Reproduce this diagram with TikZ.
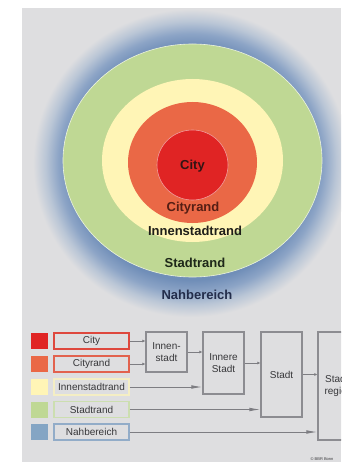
\documentclass[tikz,border=0pt]{standalone}
\usepackage{fontspec}
\setmainfont{Liberation Sans}
\usetikzlibrary{arrows.meta}
\definecolor{bg}{RGB}{222,222,224}
\definecolor{glowblue}{RGB}{112,142,184}
\definecolor{glowmid}{RGB}{140,164,198}
\definecolor{glowlight}{RGB}{186,198,214}
\definecolor{cgreen}{RGB}{191,216,148}
\definecolor{cyellow}{RGB}{255,245,182}
\definecolor{corange}{RGB}{234,104,70}
\definecolor{cred}{RGB}{224,36,36}
\definecolor{cswblue}{RGB}{132,165,196}
\definecolor{boxline}{RGB}{140,140,145}
\definecolor{conn}{RGB}{125,125,130}
\definecolor{txt}{RGB}{55,55,58}
\pgfdeclareradialshading{glow}{\pgfpoint{0bp}{0bp}}{color(0bp)=(glowblue); color(19bp)=(glowblue); color(21bp)=(glowmid); color(23bp)=(glowlight); color(25bp)=(bg); color(50bp)=(bg)}
\tikzset{
  bigtxt/.style={font=\fontsize{13}{15}\selectfont\bfseries, inner sep=0pt},
  swatch/.style={minimum width=17pt, minimum height=16pt, inner sep=0pt},
  legbox/.style={draw, line width=1.2pt, fill=bg, minimum width=75pt, minimum height=16pt, inner sep=0pt, text=txt, font=\fontsize{10}{11}\selectfont},
  flowbox/.style={draw=boxline, line width=1.2pt, fill=bg, minimum width=41pt, inner sep=0pt, text=txt, align=center, font=\fontsize{10}{11.8}\selectfont},
  conline/.style={draw=conn, line width=0.9pt},
  smallarr/.style={conline, -{Latex[length=3pt,width=3pt]}},
  longarr/.style={conline, -{Latex[length=11pt,width=3.6pt]}}
}
\begin{document}
\begin{tikzpicture}[x=1pt,y=-1pt]
\useasboundingbox (0,0) rectangle (341,462);
\clip (0,0) rectangle (341,462);
\fill[white] (0,0) rectangle (341,462);
\fill[bg] (22,8) rectangle (341,462);
% glow
\begin{scope}
\clip (22,8) rectangle (341,462);
\shade[shading=glow] (191,163) ellipse [x radius=158, y radius=154];
\end{scope}
% rings
\fill[cgreen, draw=white!70!cgreen, line width=0.6pt] (192.5,160.5) ellipse [x radius=129.5, y radius=116.5];
\fill[cyellow] (192.5,160.5) ellipse [x radius=90.5, y radius=81.5];
\fill[corange] (192.5,162.5) ellipse [x radius=64.5, y radius=60.5];
\fill[cred, draw=white!55!cred, line width=0.6pt] (192.5,165) ellipse [x radius=35.5, y radius=35];
% labels
\node[bigtxt, text={rgb,255:red,50;green,20;blue,20}] (lcity) at (192.5,166) {City};
\node[bigtxt, text={rgb,255:red,85;green,30;blue,20}] (lcityrand) at (193,208) {Cityrand};
\node[bigtxt, text={rgb,255:red,30;green,30;blue,25}] (linnen) at (195,231) {Innenstadtrand};
\node[bigtxt, text={rgb,255:red,30;green,40;blue,25}] (lstadt) at (195,263) {Stadtrand};
\node[bigtxt, text={rgb,255:red,35;green,45;blue,75}] (lnah) at (197,295) {Nahbereich};
% legend swatches
\node[swatch, fill=cred] (s1) at (39.5,341) {};
\node[swatch, fill=corange] (s2) at (39.5,364) {};
\node[swatch, fill=cyellow] (s3) at (39.5,387) {};
\node[swatch, fill=cgreen] (s4) at (39.5,409.5) {};
\node[swatch, fill=cswblue] (s5) at (39.5,432) {};
% legend boxes
\node[legbox, draw={rgb,255:red,222;green,72;blue,62}] (bcity) at (91.5,341) {City};
\node[legbox, draw={rgb,255:red,226;green,98;blue,78}] (bcityrand) at (91.5,364) {Cityrand};
\node[legbox, draw={rgb,255:red,244;green,238;blue,196}] (binnen) at (91.5,387) {Innenstadtrand};
\node[legbox, draw={rgb,255:red,204;green,222;blue,176}] (bstadt) at (91.5,409.5) {Stadtrand};
\node[legbox, draw={rgb,255:red,146;green,172;blue,200}] (bnah) at (91.5,432) {Nahbereich};
% flow boxes
\node[flowbox, minimum height=40pt] (innenstadt) at (166.5,352) {Innen-\\stadt};
\node[flowbox, minimum height=62pt] (innere) at (223.5,363) {Innere\\Stadt};
\node[flowbox, minimum height=85pt] (stadt) at (281.5,374.5) {Stadt};
\node[flowbox, minimum height=108pt] (region) at (338.5,386) {Stadt-\\region};
% connectors
\draw[smallarr] (bcity.east) -- (bcity.east -| innenstadt.west);
\draw[smallarr] (bcityrand.east) -- (bcityrand.east -| innenstadt.west);
\draw[smallarr] (innenstadt.east) -- (innenstadt.east -| innere.west);
\draw[longarr] (binnen.east) -- (binnen.east -| innere.west);
\draw[smallarr] (innere.east) -- (innere.east -| stadt.west);
\draw[longarr] (bstadt.east) -- (bstadt.east -| stadt.west);
\draw[smallarr] (stadt.east) -- (stadt.east -| region.west);
\draw[longarr] (bnah.east) -- (bnah.east -| region.west);
% credit
\node[font=\fontsize{4}{5}\selectfont, text=txt, inner sep=0pt] (credit) at (322,459.5) {© BBR Bonn};
\end{tikzpicture}
\end{document}
